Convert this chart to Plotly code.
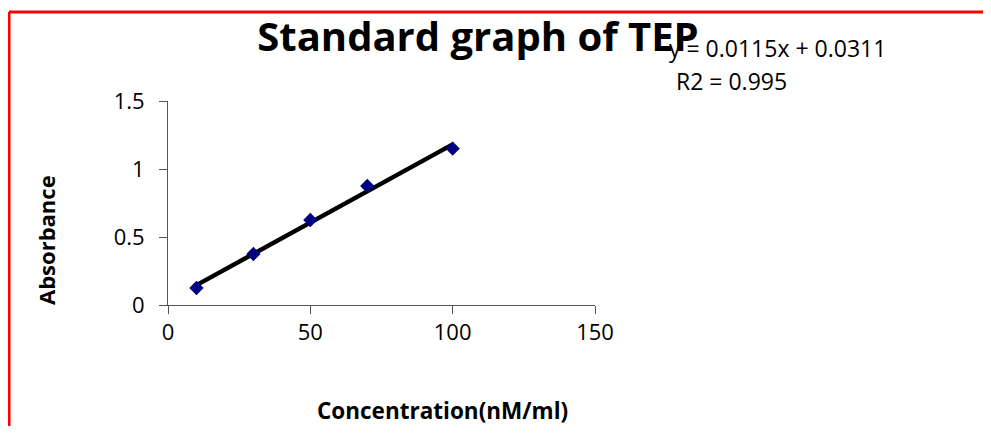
import plotly.graph_objects as go

concentration = [10, 30, 50, 70, 100]
absorbance = [0.125, 0.375, 0.625, 0.875, 1.15]
slope = 0.0115
intercept = 0.0311
r2_text = "R2 = 0.995"
eq_text = "y = 0.0115x + 0.0311"
x_ticks = [0, 50, 100, 150]
y_ticks = [0, 0.5, 1, 1.5]

W, H = 975, 418
L, R, T, B = 160, 388, 93, 121
pw, ph = W - L - R, H - T - B

def px(x):
    return (x - L) / pw

def py(y):
    return (H - B - y) / ph

trend_x = [min(concentration), max(concentration)]
trend_y = [slope * v + intercept for v in trend_x]

FONT = "Open Sans"

fig = go.Figure()
fig.add_trace(go.Scatter(x=trend_x, y=trend_y, mode="lines",
                         line=dict(color="black", width=4.5), showlegend=False))
fig.add_trace(go.Scatter(x=concentration, y=absorbance, mode="markers",
                         marker=dict(symbol="diamond", size=11, color="#000080"),
                         showlegend=False))

fig.update_layout(
    width=W, height=H,
    margin=dict(l=L, r=R, t=T, b=B),
    paper_bgcolor="white", plot_bgcolor="white",
    font=dict(family=FONT, size=22, color="black"),
    xaxis=dict(range=[0, 150], tickvals=x_ticks, showgrid=False, zeroline=False,
               showline=True, linecolor="#555555", linewidth=1,
               ticks="outside", ticklen=8, tickcolor="#555555"),
    yaxis=dict(range=[0, 1.5], tickvals=y_ticks, showgrid=False, zeroline=False,
               showline=True, linecolor="#555555", linewidth=1,
               ticks="outside", ticklen=8, tickcolor="#555555",
               ticklabelstandoff=10),
    title=dict(text="<b>Standard graph of TEP</b>", xref="paper", x=px(470), xanchor="center",
               yref="container", y=1 - 29 / H, yanchor="middle",
               font=dict(family=FONT, size=40, color="black")),
    shapes=[
        dict(type="line", xref="paper", yref="paper",
             x0=px(1), x1=px(W + 20), y0=py(4), y1=py(4),
             line=dict(color="red", width=3)),
        dict(type="line", xref="paper", yref="paper",
             x0=px(1), x1=px(1), y0=py(4), y1=py(H + 20),
             line=dict(color="red", width=3)),
    ],
    annotations=[
        dict(text=eq_text, xref="paper", yref="paper", x=px(659), y=py(40),
             xanchor="left", yanchor="middle", showarrow=False, font=dict(size=23)),
        dict(text=r2_text, xref="paper", yref="paper", x=px(666), y=py(73),
             xanchor="left", yanchor="middle", showarrow=False, font=dict(size=23)),
        dict(text="<b>Concentration(nM/ml)</b>", xref="paper", yref="paper", x=px(434), y=py(402),
             xanchor="center", yanchor="middle", showarrow=False, font=dict(size=22.5)),
        dict(text="<b>Absorbance</b>", xref="paper", yref="paper", x=px(38), y=py(232),
             xanchor="center", yanchor="middle", showarrow=False, textangle=-90,
             font=dict(size=22)),
    ],
)

fig.write_html("out.html")
